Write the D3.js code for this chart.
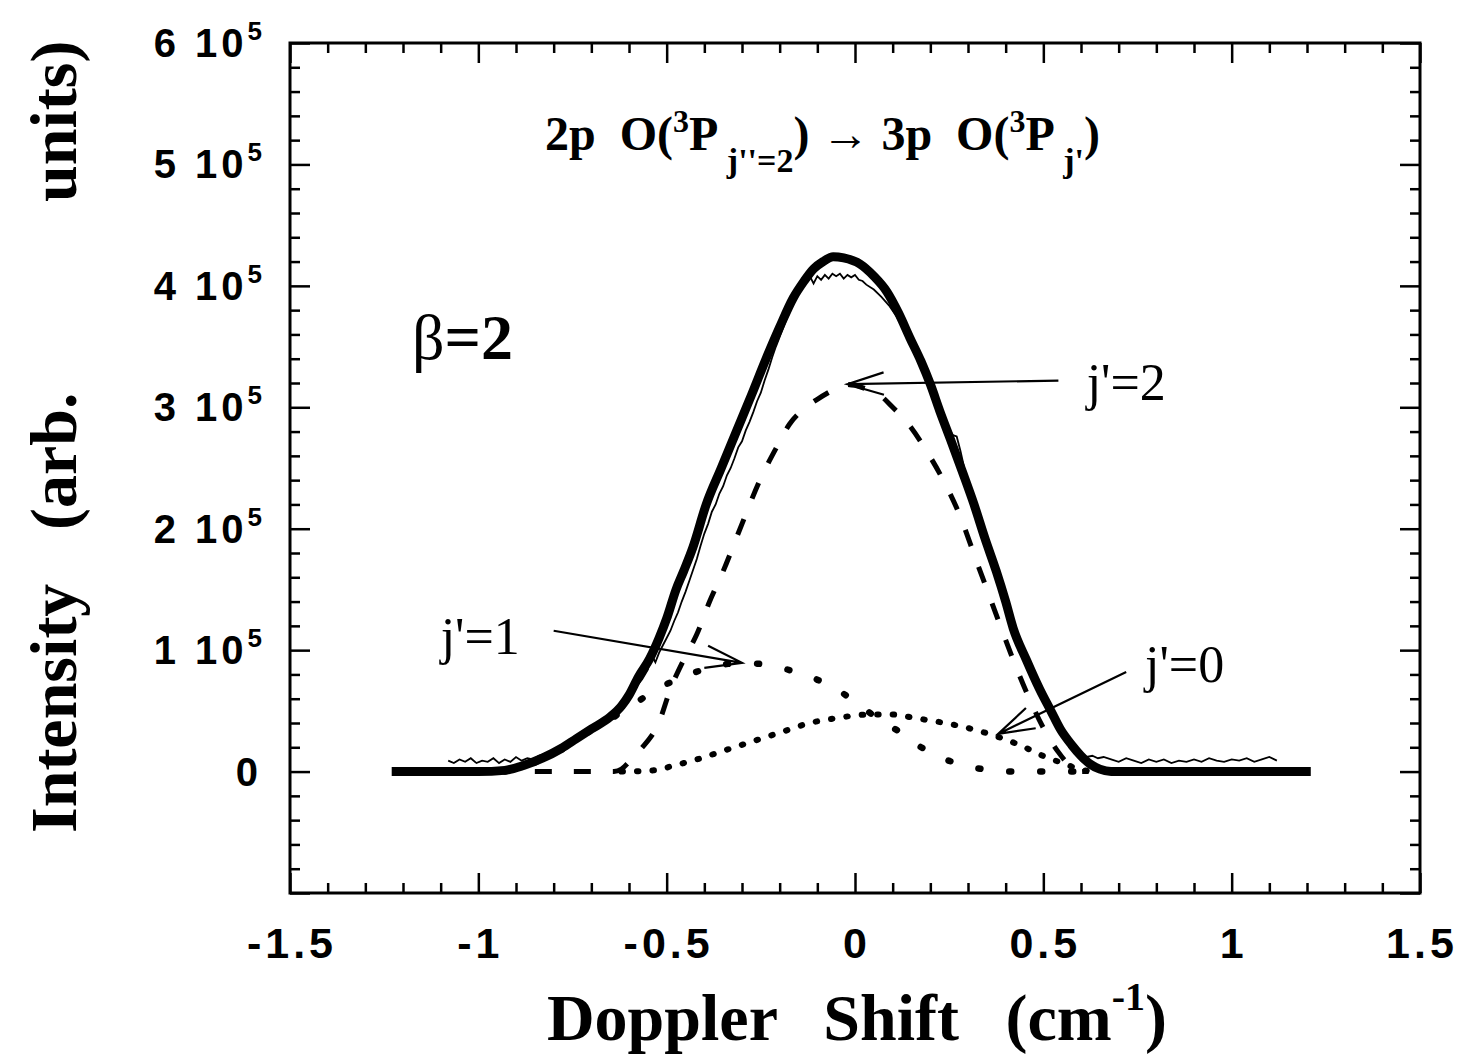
<!DOCTYPE html>
<html lang="en">
<head>
<meta charset="utf-8">
<title>Doppler profile, 2p O(3P j''=2) to 3p O(3P j')</title>
<style>
  body { margin: 0; background: #fff; }
  svg { display: block; }
  text { white-space: pre; }
</style>
<script src="https://d3js.org/d3.v7.min.js"></script>
</head>
<body>
<div class="chart"></div>
<script>
// intensities are in units of 10^3 (arb. units), x in cm^-1
const xMajor = [-1.5, -1, -0.5, 0, 0.5, 1, 1.5];
const xLabels = ["-1.5", "-1", "-0.5", "0", "0.5", "1", "1.5"];
const yMajor = [0, 100, 200, 300, 400, 500, 600];
const yMant = ["0", "1 10", "2 10", "3 10", "4 10", "5 10", "6 10"];
const yExp = ["", "5", "5", "5", "5", "5", "5"];

// thick solid: total fit
const total = [
  [-1.23, 0], [-1.0, 0], [-0.93, 1], [-0.88, 5], [-0.83, 11], [-0.78, 19], [-0.74, 27],
  [-0.70, 35], [-0.65, 45], [-0.62, 54], [-0.60, 63], [-0.575, 78], [-0.545, 93],
  [-0.52, 110], [-0.50, 126], [-0.475, 150], [-0.455, 165], [-0.43, 185], [-0.395, 220],
  [-0.355, 250], [-0.315, 280], [-0.275, 310], [-0.236, 340], [-0.20, 366], [-0.164, 390],
  [-0.135, 404], [-0.11, 414], [-0.085, 420], [-0.058, 424], [-0.03, 423], [0.013, 418],
  [0.05, 408], [0.085, 395], [0.115, 378], [0.146, 357], [0.175, 338], [0.2, 319],
  [0.225, 297], [0.253, 274], [0.285, 247], [0.316, 220], [0.345, 192], [0.375, 165],
  [0.40, 140], [0.42, 118], [0.455, 92], [0.49, 68], [0.52, 50], [0.545, 35], [0.575, 22],
  [0.60, 13], [0.625, 6], [0.65, 2], [0.68, 0], [1.21, 0]
];

// thin line: measured spectrum
const measured = [
  [-1.08, 9], [-1.065, 7], [-1.05, 10], [-1.035, 8], [-1.02, 11], [-1.005, 7], [-0.99, 9],
  [-0.975, 8], [-0.96, 11], [-0.945, 7], [-0.93, 10], [-0.915, 8], [-0.90, 12], [-0.885, 9],
  [-0.87, 11], [-0.855, 10], [-0.84, 13], [-0.82, 15], [-0.80, 18], [-0.78, 21], [-0.76, 25],
  [-0.74, 29], [-0.72, 32], [-0.70, 36], [-0.68, 40], [-0.66, 44], [-0.64, 50], [-0.62, 55],
  [-0.60, 62], [-0.58, 70], [-0.565, 76], [-0.55, 84], [-0.54, 96], [-0.53, 90], [-0.52, 98],
  [-0.51, 104], [-0.50, 110], [-0.49, 116], [-0.48, 124], [-0.47, 131], [-0.46, 140],
  [-0.45, 148], [-0.44, 157], [-0.43, 166], [-0.42, 175], [-0.41, 186], [-0.40, 196],
  [-0.39, 204], [-0.38, 214], [-0.37, 220], [-0.36, 229], [-0.35, 235], [-0.34, 244],
  [-0.33, 250], [-0.32, 258], [-0.31, 267], [-0.30, 272], [-0.29, 281], [-0.28, 288],
  [-0.27, 296], [-0.26, 305], [-0.25, 312], [-0.24, 322], [-0.23, 331], [-0.22, 341],
  [-0.21, 350], [-0.20, 358], [-0.19, 366], [-0.18, 374], [-0.17, 381], [-0.16, 388],
  [-0.15, 394], [-0.14, 399], [-0.13, 404], [-0.12, 408], [-0.11, 402], [-0.10, 408],
  [-0.09, 405], [-0.08, 409], [-0.07, 406], [-0.06, 410], [-0.05, 408], [-0.04, 410],
  [-0.03, 406], [-0.02, 409], [-0.01, 407], [0.00, 409], [0.01, 405], [0.02, 404],
  [0.03, 401], [0.05, 397], [0.07, 391], [0.09, 384], [0.11, 375], [0.13, 365], [0.15, 353],
  [0.17, 340], [0.19, 326], [0.21, 311], [0.23, 296], [0.25, 282], [0.26, 277], [0.27, 276],
  [0.28, 264], [0.29, 250], [0.31, 230], [0.33, 207], [0.35, 186], [0.37, 168], [0.39, 148],
  [0.41, 128], [0.42, 122], [0.43, 110], [0.45, 97], [0.46, 92], [0.47, 84], [0.48, 80],
  [0.49, 70], [0.50, 66], [0.51, 58], [0.52, 54], [0.53, 46], [0.54, 42], [0.55, 36],
  [0.56, 32], [0.57, 26], [0.58, 22], [0.59, 18], [0.60, 14], [0.615, 12], [0.63, 13],
  [0.645, 11], [0.66, 12], [0.68, 10], [0.70, 8], [0.72, 11], [0.74, 9], [0.76, 7],
  [0.78, 10], [0.80, 8], [0.82, 10], [0.84, 7], [0.86, 9], [0.88, 8], [0.90, 10], [0.92, 8],
  [0.94, 11], [0.96, 9], [0.98, 8], [1.00, 10], [1.02, 9], [1.04, 11], [1.06, 8], [1.08, 10],
  [1.10, 12], [1.12, 9]
];

// dashed: j'=2 component
const j2 = [
  [-0.85, 0], [-0.64, 0], [-0.62, 2], [-0.60, 8], [-0.57, 18], [-0.52, 41], [-0.49, 68],
  [-0.455, 92], [-0.42, 113], [-0.386, 140], [-0.35, 165], [-0.30, 204], [-0.254, 239],
  [-0.21, 266], [-0.174, 286], [-0.13, 300], [-0.098, 307], [-0.06, 314], [-0.03, 319],
  [0.00, 318], [0.03, 315], [0.07, 309], [0.10, 300], [0.137, 288], [0.19, 264], [0.236, 239],
  [0.27, 217], [0.33, 167], [0.38, 125], [0.42, 92], [0.46, 62], [0.50, 36], [0.54, 16],
  [0.57, 5], [0.59, 1], [0.60, 0], [0.62, 0]
];

// sparse dots: j'=1 component
const j1 = [
  [-0.93, 0], [-0.88, 4], [-0.83, 10], [-0.78, 18], [-0.74, 26], [-0.70, 34], [-0.65, 43],
  [-0.60, 53], [-0.55, 63], [-0.50, 72], [-0.44, 80], [-0.38, 86], [-0.32, 89], [-0.27, 89],
  [-0.22, 87], [-0.19, 85], [-0.15, 81], [-0.11, 77], [-0.07, 71], [-0.03, 64], [0.01, 55],
  [0.05, 46], [0.09, 38], [0.127, 31], [0.16, 23], [0.20, 16], [0.24, 10], [0.28, 6],
  [0.32, 3], [0.355, 1.5], [0.40, 0], [0.60, 0]
];

// dense dots: j'=0 component
const j0 = [
  [-0.62, 0], [-0.535, 1], [-0.48, 5], [-0.42, 10], [-0.35, 17], [-0.27, 25], [-0.20, 32],
  [-0.12, 40], [-0.05, 44], [0.04, 47], [0.10, 47], [0.16, 44], [0.22, 41], [0.285, 37],
  [0.366, 30], [0.436, 22], [0.506, 12], [0.56, 6], [0.594, 2], [0.63, 0]
];

// annotation arrows: label, text anchor point, arrow start, arrow tip
const notes = [
  { label: "j'=2", at: [0.615, 306], from: [0.54, 322], to: [-0.02, 319] },
  { label: "j'=1", at: [-1.1, 97], from: [-0.80, 116], to: [-0.30, 89.5] },
  { label: "j'=0", at: [0.77, 74], from: [0.72, 82], to: [0.38, 31] }
];

const W = 1464, H = 1064;
const L = 290, R = 1420, T = 43, B = 893;
const serif = "Liberation Serif, Times New Roman, serif";
const sans = "Liberation Sans, Arial, sans-serif";

const svg = d3.select(".chart").append("svg")
  .attr("width", W).attr("height", H)
  .style("background", "#fff");

const x = d3.scaleLinear().domain([-1.5, 1.5]).range([L, R]);
const y = d3.scaleLinear().domain([-100, 600]).range([B, T]);

const xMinor = d3.range(-1.4, 1.45, 0.1).filter(v => Math.abs(v * 2 - Math.round(v * 2)) > 1e-6);
const yMinor = d3.range(-80, 600, 20).filter(v => v % 100 !== 0);

const tickStyle = g => {
  g.select(".domain").remove();
  g.selectAll("line").attr("stroke", "#000").attr("stroke-width", 2.5);
  g.selectAll("text").remove();
};

// ticks on all four sides, pointing inward
[[d3.axisBottom, `translate(0,${B})`, x], [d3.axisTop, `translate(0,${T})`, x],
 [d3.axisLeft, `translate(${L},0)`, y], [d3.axisRight, `translate(${R},0)`, y]]
  .forEach(([ax, tr, sc]) => {
    const major = sc === x ? xMajor : [-100].concat(yMajor);
    const minor = sc === x ? xMinor : yMinor;
    svg.append("g").attr("transform", tr)
      .call(ax(sc).tickValues(major).tickSize(-20)).call(tickStyle);
    svg.append("g").attr("transform", tr)
      .call(ax(sc).tickValues(minor).tickSize(-10)).call(tickStyle);
  });

svg.append("rect")
  .attr("x", L).attr("y", T).attr("width", R - L).attr("height", B - T)
  .attr("fill", "none").attr("stroke", "#000").attr("stroke-width", 3);

// x tick labels
svg.append("g").selectAll("text")
  .data(xMajor)
  .join("text")
  .attr("x", d => x(d) + 2)
  .attr("y", 958)
  .attr("text-anchor", "middle")
  .style("font-family", sans)
  .style("font-weight", "bold")
  .style("font-size", "43px")
  .style("letter-spacing", "4px")
  .text((d, i) => xLabels[i]);

// y tick labels with exponent
const yl = svg.append("g").selectAll("text")
  .data(yMajor)
  .join("text")
  .attr("x", 262)
  .attr("y", d => y(d) + 14)
  .attr("text-anchor", "end")
  .style("font-family", sans)
  .style("font-weight", "bold")
  .style("font-size", "40px")
  .style("letter-spacing", "4px");
yl.append("tspan").text((d, i) => yMant[i]);
yl.append("tspan")
  .attr("dy", -17)
  .style("font-size", "26px")
  .style("letter-spacing", "0px")
  .text((d, i) => yExp[i]);

// curves
const line = d3.line().x(d => x(d[0])).y(d => y(d[1]));
const smooth = d3.line().x(d => x(d[0])).y(d => y(d[1])).curve(d3.curveMonotoneX);

svg.append("path").datum(j0).attr("d", smooth)
  .attr("fill", "none").attr("stroke", "#000").attr("stroke-width", 6)
  .attr("stroke-linecap", "round").attr("stroke-dasharray", "1.5,14");
svg.append("path").datum(j1).attr("d", smooth)
  .attr("fill", "none").attr("stroke", "#000").attr("stroke-width", 6.5)
  .attr("stroke-linecap", "round").attr("stroke-dasharray", "2,29");
svg.append("path").datum(j2).attr("d", smooth)
  .attr("fill", "none").attr("stroke", "#000").attr("stroke-width", 5)
  .attr("stroke-dasharray", "17,22");
svg.append("path").datum(measured).attr("d", line)
  .attr("fill", "none").attr("stroke", "#000").attr("stroke-width", 1.8);
svg.append("path").datum(total).attr("d", smooth)
  .attr("fill", "none").attr("stroke", "#000").attr("stroke-width", 9)
  .attr("stroke-linejoin", "round");

// annotation arrows with open heads
notes.forEach(n => {
  const x0 = x(n.from[0]), y0 = y(n.from[1]), x1 = x(n.to[0]), y1 = y(n.to[1]);
  const a = Math.atan2(y0 - y1, x0 - x1), len = 38, spread = 0.3;
  svg.append("path")
    .attr("d", `M${x0},${y0}L${x1},${y1}` +
      `M${x1 + len * Math.cos(a + spread)},${y1 + len * Math.sin(a + spread)}L${x1},${y1}` +
      `L${x1 + len * Math.cos(a - spread)},${y1 + len * Math.sin(a - spread)}`)
    .attr("fill", "none").attr("stroke", "#000").attr("stroke-width", 2.2);
  svg.append("text")
    .attr("x", x(n.at[0])).attr("y", y(n.at[1]))
    .style("font-family", serif)
    .style("font-size", "52px")
    .text(n.label);
});

// beta label
const beta = svg.append("text")
  .attr("x", x(-1.176)).attr("y", y(340))
  .style("font-family", serif)
  .style("font-size", "64px");
beta.append("tspan").text("β");
beta.append("tspan").style("font-weight", "bold").text("=2");

// title
const title = svg.append("text")
  .attr("x", 545).attr("y", 150)
  .style("font-family", serif)
  .style("font-weight", "bold")
  .style("font-size", "48px");
const parts = [
  ["2p  O(", 0, 48], ["3", -18, 32], ["P", 18, 48], [" j''=2", 22, 34], [")", -22, 48],
  [" \u2192 ", 0, 48, "normal"], ["3p  O(", 0, 48], ["3", -18, 32], ["P", 18, 48],
  [" j'", 22, 34], [")", -22, 48]
];
parts.forEach(([t, dy, fs, fw]) => {
  title.append("tspan").attr("dy", dy).style("font-size", fs + "px")
    .style("font-weight", fw || "bold").text(t);
});

// axis titles
const xt = svg.append("text")
  .attr("x", 857).attr("y", 1040)
  .attr("text-anchor", "middle")
  .style("font-family", serif)
  .style("font-weight", "bold")
  .style("font-size", "66px")
  .style("word-spacing", "30px");
xt.append("tspan").text("Doppler Shift (cm");
xt.append("tspan").attr("dy", -30).style("font-size", "40px").text("-1");
xt.append("tspan").attr("dy", 30).text(")");

const yt = svg.append("g").attr("transform", "translate(76,0) rotate(-90)");
[["Intensity", 833], ["(arb.", 530], ["units)", 202]].forEach(([t, pos]) => {
  yt.append("text")
    .attr("x", -pos).attr("y", 0)
    .style("font-family", serif)
    .style("font-weight", "bold")
    .style("font-size", "66px")
    .text(t);
});
</script>
</body>
</html>
